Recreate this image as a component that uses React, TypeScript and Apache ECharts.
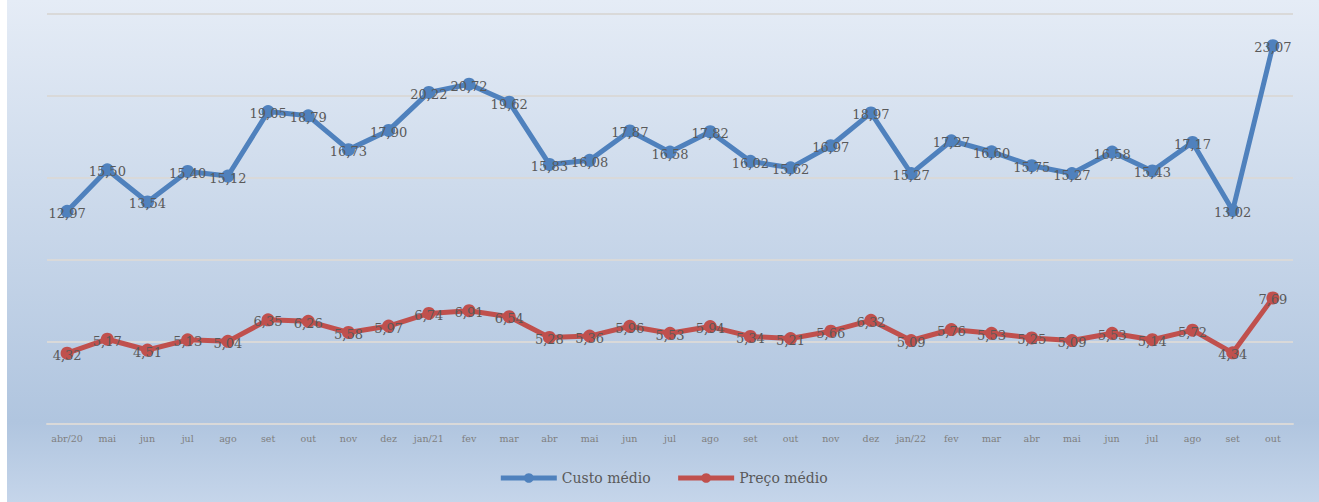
import React, { useEffect, useRef } from "react";
import * as echarts from "echarts";

const categories = [
  "abr/20", "mai", "jun", "jul", "ago", "set", "out", "nov", "dez", "jan/21",
  "fev", "mar", "abr", "mai", "jun", "jul", "ago", "set", "out", "nov", "dez",
  "jan/22", "fev", "mar", "abr", "mai", "jun", "jul", "ago", "set", "out",
];

const custoMedio = [
  12.97, 15.5, 13.54, 15.4, 15.12, 19.05, 18.79, 16.73, 17.9, 20.22, 20.72, 19.62,
  15.83, 16.08, 17.87, 16.58, 17.82, 16.02, 15.62, 16.97, 18.97, 15.27, 17.27,
  16.6, 15.75, 15.27, 16.58, 15.43, 17.17, 13.02, 23.07,
];

const precoMedio = [
  4.32, 5.17, 4.51, 5.13, 5.04, 6.35, 6.26, 5.58, 5.97, 6.74, 6.91, 6.54, 5.28,
  5.36, 5.96, 5.53, 5.94, 5.34, 5.21, 5.66, 6.32, 5.09, 5.76, 5.53, 5.25, 5.09,
  5.53, 5.14, 5.72, 4.34, 7.69,
];

const FONT = "'DejaVu Serif', 'Liberation Serif', serif";

const fmt = (p: any) => Number(p.value).toFixed(2).replace(".", ",");

export default function App() {
  const ref = useRef<HTMLDivElement>(null);
  useEffect(() => {
    if (!ref.current) return;
    const chart = echarts.init(ref.current, undefined, { renderer: "svg" });
    const mkSeries = (name: string, data: number[], color: string, z: number) => ({
      name,
      type: "line",
      data,
      symbol: "circle",
      symbolSize: 13,
      lineStyle: { width: 5, color },
      itemStyle: { color },
      label: {
        show: true,
        position: "inside",
        offset: [0, 2],
        formatter: fmt,
        fontFamily: FONT,
        fontSize: 13,
        color: "#595959",
      },
      z,
    });
    chart.setOption({
      animation: false,
      backgroundColor: {
        type: "linear",
        x: 0, y: 0, x2: 0, y2: 1,
        colorStops: [
          { offset: 0, color: "#e5ecf6" },
          { offset: 0.84, color: "#b0c5df" },
          { offset: 1, color: "#c5d5ea" },
        ],
      },
      grid: { left: 40, top: 14, width: 1246, height: 410, containLabel: false },
      legend: {
        bottom: 12,
        left: "center",
        itemWidth: 56,
        itemHeight: 12,
        itemGap: 25,
        lineStyle: { width: 5 },
        textStyle: { fontFamily: FONT, fontSize: 14, color: "#595959" },
        data: ["Custo médio", "Preço médio"],
      },
      xAxis: {
        type: "category",
        data: categories,
        boundaryGap: true,
        axisLine: { show: true, lineStyle: { color: "#d9d9d9", width: 2 } },
        axisTick: { show: false },
        axisLabel: {
          interval: 0,
          fontFamily: FONT,
          fontSize: 9.5,
          color: "#7f7f7f",
          margin: 9,
        },
      },
      yAxis: {
        type: "value",
        min: 0,
        max: 25,
        interval: 5,
        axisLabel: { show: false },
        axisLine: { show: false },
        axisTick: { show: false },
        splitLine: { lineStyle: { color: "#d9d9d9", width: 2 } },
      },
      series: [
        mkSeries("Custo médio", custoMedio, "#4f81bd", 3),
        mkSeries("Preço médio", precoMedio, "#c0504d", 2),
      ],
    });
    return () => chart.dispose();
  }, []);
  return (
    <div
      ref={ref}
      style={{ position: "absolute", left: 7, top: 0, width: 1312, height: 502 }}
    />
  );
}
